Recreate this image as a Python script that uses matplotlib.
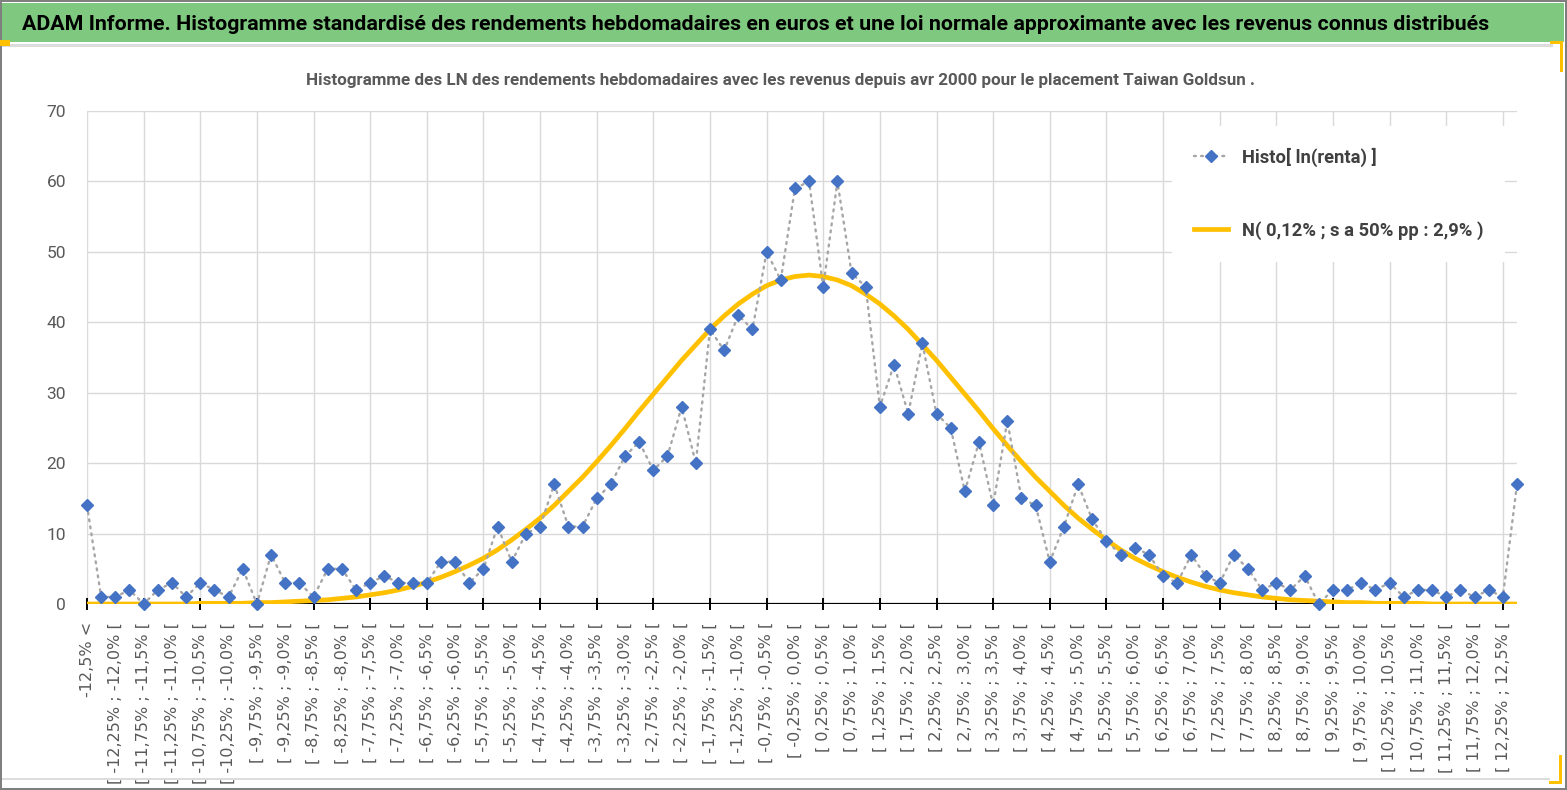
import matplotlib.pyplot as plt
from matplotlib.patches import Rectangle
from matplotlib.lines import Line2D

# histogram counts, one per class (tails at both ends)
histo = [14, 1, 1, 2, 0, 2, 3, 1, 3, 2,
         1, 5, 0, 7, 3, 3, 1, 5, 5, 2,
         3, 4, 3, 3, 3, 6, 6, 3, 5, 11,
         6, 10, 11, 17, 11, 11, 15, 17, 21, 23,
         19, 21, 28, 20, 39, 36, 41, 39, 50, 46,
         59, 60, 45, 60, 47, 45, 28, 34, 27, 37,
         27, 25, 16, 23, 14, 26, 15, 14, 6, 11,
         17, 12, 9, 7, 8, 7, 4, 3, 7, 4,
         3, 7, 5, 2, 3, 2, 4, 0, 2, 2,
         3, 2, 3, 1, 2, 2, 1, 2, 1, 2,
         1, 17]

# approximating normal curve, read per class
normale = [0, 0, 0, 0, 0, 0, 0, 0, 0.1, 0.1,
           0.1, 0.1, 0.2, 0.2, 0.3, 0.4, 0.5, 0.6, 0.8, 1.0,
           1.3, 1.6, 2.0, 2.5, 3.1, 3.8, 4.6, 5.5, 6.5, 7.7,
           9.1, 10.6, 12.2, 14.0, 16.0, 18.0, 20.2, 22.5, 24.9, 27.4,
           29.8, 32.2, 34.6, 36.8, 39.0, 40.9, 42.6, 44.0, 45.2, 46.0,
           46.5, 46.7, 46.5, 46.0, 45.2, 44.0, 42.6, 40.9, 39.0, 36.8,
           34.6, 32.2, 29.8, 27.4, 24.9, 22.5, 20.2, 18.0, 16.0, 14.0,
           12.2, 10.6, 9.1, 7.7, 6.5, 5.5, 4.6, 3.8, 3.1, 2.5,
           2.0, 1.6, 1.3, 1.0, 0.8, 0.6, 0.5, 0.4, 0.3, 0.2,
           0.2, 0.1, 0.1, 0.1, 0.1, 0, 0, 0, 0, 0,
           0, 0]

bornes_inf = [-12.5 + 0.25 * k for k in range(100)]


def pct(v):
    s = "%.2f" % (round(v, 2) + 0.0)
    if s.endswith("0"):
        s = s[:-1]
    return s.replace(".", ",") + "%"


categories = ["-12,5% <"] + ["[ %s ; %s [" % (pct(a), pct(a + 0.25)) for a in bornes_inf] + ["> 12,5%"]

titre = "ADAM Informe. Histogramme standardisé des rendements hebdomadaires en euros et une loi normale approximante avec les revenus connus distribués"
sous_titre = "Histogramme des LN des rendements hebdomadaires avec les revenus depuis avr 2000 pour le placement Taiwan Goldsun ."
noms = ["Histo[ ln(renta) ]", "N( 0,12% ; s a 50% pp : 2,9% )"]

FONT = ["Roboto", "DejaVu Sans"]
W, H = 1567, 790
fig = plt.figure(figsize=(W / 100, H / 100), dpi=100)
rend = fig.canvas.get_renderer()


def boite(x0, y0, x1, y1, color):
    fig.patches.append(Rectangle((x0 / W, 1 - y1 / H), (x1 - x0) / W, (y1 - y0) / H,
                                 transform=fig.transFigure, color=color, zorder=-10, lw=0))


def ajuste(t, largeur):
    # shrink/grow font so the text spans the wanted pixel width
    for _ in range(4):
        w = t.get_window_extent(rend).width
        t.set_fontsize(t.get_fontsize() * largeur / w)


# frame decoration
boite(0, 0, W, H, "#7f7f7f")
boite(2, 2, W - 2, H - 2, "white")
boite(2, 3, W - 3, 42, "#7ec87f")
boite(2, 44, 1553, 47, "#dcdcdc")
boite(2, 778, 1550, 780, "#dcdcdc")
boite(0, 40, 10, 46, "#ffc000")
boite(1550, 41, 1563, 44, "#ffc000")
boite(1560, 41, 1563, 72, "#ffc000")
boite(1559, 755, 1562, 784, "#ffc000")
boite(1549, 781, 1562, 784, "#ffc000")

t1 = fig.text(22 / W, 1 - 24 / H, titre, family=FONT, weight="bold", fontsize=14,
              color="black", ha="left", va="center")
ajuste(t1, 1468)
t2 = fig.text(780 / W, 1 - 80 / H, sous_titre, family=FONT, weight="bold", fontsize=10,
              color="#595959", ha="center", va="center")
ajuste(t2, 947)

ax = fig.add_axes([87 / W, 1 - 604 / H, 1430 / W, 493 / H])
x = list(range(len(histo)))

# vertical gridlines every 4 classes, horizontal every 10
ax.vlines(x[0:101:4], 0, 70, color="#d9d9d9", lw=1, zorder=0.5)
ax.yaxis.grid(True, color="#d9d9d9", lw=1)
ax.xaxis.grid(False, which="both")
ax.set_axisbelow(True)

ax.axhline(0, color="black", lw=1.6, zorder=2)
ax.plot(x, normale, color="#ffc000", lw=3.4, zorder=3, solid_capstyle="round")
ax.plot(x, histo, color="#a6a6a6", lw=1.7, ls=(0, (0.8, 2.2)), dash_capstyle="round",
        marker="D", ms=6.4, mfc="#4472c4", mec="#4472c4", zorder=4, clip_on=False)

ax.set_xlim(0, len(histo) - 1)
ax.set_ylim(0, 70)
ax.set_yticks(range(0, 71, 10))
ax.xaxis.remove_overlapping_locs = False
ax.set_xticks(x[0:101:2])
ax.set_xticklabels(categories[0:101:2], rotation=90, fontsize=11.5, color="#595959")
ax.set_xticks(x[0:101:4], minor=True)
ax.tick_params(axis="x", which="major", length=0, pad=13)
ax.tick_params(axis="x", which="minor", length=8, width=1.4, direction="inout", color="black")
ax.tick_params(axis="y", length=0, pad=15, labelsize=12.5, labelcolor="#595959")
for lab in ax.get_yticklabels():
    lab.set_family(FONT)
for s in ax.spines.values():
    s.set_visible(False)

handles = [Line2D([], [], color="#a6a6a6", lw=1.7, ls=(0, (0.8, 2.2)), marker="D", ms=6.4,
                  mfc="#4472c4", mec="#4472c4", dash_capstyle="round"),
           Line2D([], [], color="#ffc000", lw=3.4)]
leg = ax.legend(handles, noms, loc="upper left", bbox_to_anchor=(1163 / W, 1 - 117 / H),
                bbox_transform=fig.transFigure, frameon=True, facecolor="white",
                edgecolor="none", framealpha=1, fancybox=False, handlelength=1.9,
                handletextpad=0.75, labelspacing=3.0, borderpad=1.2,
                prop={"family": FONT, "weight": "bold", "size": 13})
for t in leg.get_texts():
    t.set_color("#404040")
ajuste(leg.get_texts()[1], 242)
leg.get_texts()[0].set_fontsize(leg.get_texts()[1].get_fontsize())

fig.savefig("out.png", dpi=100)
